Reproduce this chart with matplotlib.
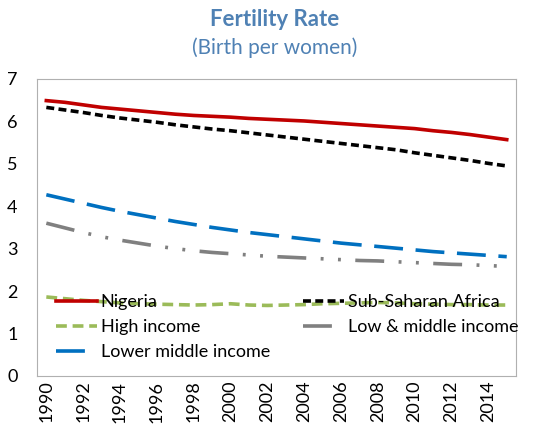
import matplotlib.pyplot as plt

years = list(range(1990, 2016))
nigeria = [6.49, 6.45, 6.39, 6.33, 6.29, 6.25, 6.21, 6.17, 6.14, 6.12, 6.10, 6.07, 6.05,
           6.03, 6.01, 5.98, 5.95, 5.92, 5.89, 5.86, 5.83, 5.78, 5.74, 5.69, 5.63, 5.57]
ssa = [6.33, 6.27, 6.21, 6.14, 6.08, 6.03, 5.98, 5.92, 5.87, 5.82, 5.78, 5.73, 5.68,
       5.63, 5.58, 5.53, 5.48, 5.43, 5.38, 5.33, 5.26, 5.20, 5.14, 5.08, 5.01, 4.95]
high_income = [1.86, 1.82, 1.78, 1.75, 1.72, 1.70, 1.69, 1.68, 1.67, 1.68, 1.70, 1.67, 1.66,
               1.67, 1.68, 1.70, 1.71, 1.72, 1.73, 1.72, 1.70, 1.69, 1.68, 1.68, 1.67, 1.67]
low_middle = [3.60, 3.49, 3.38, 3.28, 3.20, 3.13, 3.06, 3.00, 2.95, 2.91, 2.88, 2.85, 2.82,
              2.80, 2.78, 2.76, 2.74, 2.72, 2.71, 2.69, 2.67, 2.65, 2.63, 2.62, 2.60, 2.58]
lower_middle = [4.27, 4.17, 4.07, 3.97, 3.88, 3.80, 3.72, 3.64, 3.57, 3.50, 3.44, 3.38, 3.33,
                3.28, 3.23, 3.18, 3.13, 3.09, 3.05, 3.01, 2.97, 2.93, 2.90, 2.87, 2.84, 2.81]

plt.rcParams['font.family'] = ['Lato', 'DejaVu Sans']
title_color = '#4f81b4'

fig = plt.figure(figsize=(5.38, 4.34), dpi=100)
ax = fig.add_axes([0.069, 0.134, 0.89, 0.684])

x = list(range(len(years)))
l_ng, = ax.plot(x, nigeria, color='#c00000', lw=2.6, label='Nigeria')
l_ssa, = ax.plot(x, ssa, color='black', lw=2.6, dashes=(2.2, 1.2), label='Sub-Saharan Africa')
l_hi, = ax.plot(x, high_income, color='#9bbb59', lw=2.6, dashes=(3, 1.6), label='High income')
l_lm, = ax.plot(x, low_middle, color='#808080', lw=2.6, dashes=(8, 4, 0.8, 4, 0.8, 4),
                label='Low & middle income')
l_lmi, = ax.plot(x, lower_middle, color='#0070c0', lw=2.6, dashes=(8, 3.5), label='Lower middle income')

ax.set_xlim(-0.5, len(years) - 0.5)
ax.set_ylim(0, 7)
ax.set_xticks(x[::2])
ax.set_xticklabels([str(y) for y in years[::2]], rotation=90, fontsize=13)
ax.tick_params(axis='both', length=0, labelsize=13, colors='black')
ax.tick_params(axis='y', pad=14)
for s in ax.spines.values():
    s.set_color('#b0b0b0')

leg = ax.legend([l_ng, l_hi, l_lmi, l_ssa, l_lm],
                ['Nigeria', 'High income', 'Lower middle income', 'Sub-Saharan Africa', 'Low & middle income'],
                ncol=2, loc='upper left', bbox_to_anchor=(0.02, 0.305), frameon=False,
                fontsize=13, handlelength=2.3, handletextpad=0.2, labelspacing=0.5,
                columnspacing=1.8, borderpad=0)

fig.text(0.51, 0.955, 'Fertility Rate', ha='center', va='center', fontsize=16,
         fontweight='bold', color=title_color)
fig.text(0.51, 0.89, '(Birth per women)', ha='center', va='center', fontsize=15,
         color=title_color)

fig.savefig('out.png', dpi=100)
